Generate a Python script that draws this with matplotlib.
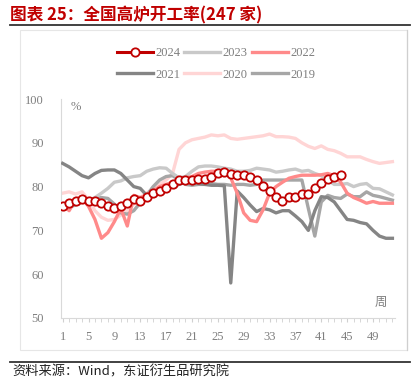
import matplotlib
matplotlib.use("Agg")
import matplotlib.pyplot as plt
from matplotlib.patches import Rectangle
from matplotlib.lines import Line2D
import numpy as np

plt.rcParams['font.family'] = ['Liberation Serif', 'Noto Sans CJK SC', 'DejaVu Sans']

weeks = list(range(1, 53))

y2024 = [75.6, 76.2, 76.6, 77.1, 76.7, 76.7, 76.2, 75.6, 75.2, 75.6, 76.2, 77.1, 76.6,
         77.7, 78.5, 79.0, 79.6, 80.6, 81.5, 81.5, 81.5, 81.7, 81.7, 82.1, 83.0, 83.4,
         82.9, 82.6, 82.6, 82.3, 81.4, 80.1, 79.1, 77.6, 76.6, 77.7, 77.7, 78.2, 78.2,
         79.6, 80.8, 81.7, 82.1, 82.6]

y2023 = [76.0, 76.0, 76.3, 76.5, 76.8, 77.5, 78.5, 79.6, 81.0, 81.3, 82.0, 82.3, 82.5,
         83.5, 84.0, 84.3, 84.2, 83.0, 82.0, 82.3, 83.5, 84.5, 84.7, 84.7, 84.5, 84.2,
         84.0, 83.5, 83.5, 83.7, 84.2, 84.0, 83.8, 83.3, 83.5, 83.8, 84.0, 83.5, 83.7,
         83.0, 82.5, 81.5, 80.5, 80.5, 80.7, 80.0, 80.5, 80.7, 79.6, 79.5, 78.8, 78.1]

y2022 = [76.0, 74.5, 77.0, 77.3, 75.5, 72.5, 68.2, 69.5, 72.0, 75.0, 71.0, 78.0, 77.5,
         78.0, 79.0, 80.0, 80.5, 81.0, 81.5, 82.0, 82.3, 83.0, 83.3, 83.5, 83.5, 83.3,
         82.0, 78.5, 74.0, 72.3, 72.0, 74.7, 78.5, 80.0, 81.0, 81.9, 82.3, 82.6, 82.6,
         82.6, 82.7, 83.0, 82.5, 81.0, 78.5, 77.5, 76.9, 76.2, 76.6, 76.2, 76.2, 76.2]

y2021 = [85.3, 84.5, 83.5, 82.5, 82.0, 83.0, 83.7, 83.8, 83.8, 83.0, 81.5, 80.0, 79.6,
         78.0, 78.0, 78.5, 79.5, 80.0, 80.5, 81.0, 81.0, 80.7, 80.5, 80.3, 80.3, 80.2,
         58.0, 79.0, 77.5, 75.8, 74.3, 75.0, 74.7, 74.0, 74.5, 74.5, 73.3, 72.0, 70.0,
         74.5, 77.7, 77.5, 76.5, 74.5, 72.5, 72.3, 71.8, 71.5, 70.0, 68.7, 68.2, 68.2]

y2020 = [78.5, 78.8, 78.3, 78.8, 77.0, 74.5, 73.0, 72.3, 72.5, 73.5, 74.5, 76.0, 77.5,
         78.5, 79.5, 80.5, 81.5, 83.0, 88.5, 90.0, 90.7, 91.0, 91.3, 91.8, 91.6, 91.8,
         91.0, 90.8, 91.0, 91.2, 91.4, 91.6, 92.0, 91.4, 91.4, 91.3, 91.0, 90.0, 89.2,
         88.7, 89.3, 88.5, 88.2, 87.6, 86.8, 86.8, 86.8, 86.2, 85.7, 85.3, 85.5, 85.7]

y2019 = [75.0, 75.3, 75.8, 76.5, 77.0, 77.3, 77.5, 77.3, 76.0, 74.0, 73.7, 74.5, 76.3,
         78.0, 80.0, 81.5, 82.3, 82.5, 81.5, 80.5, 80.3, 80.5, 80.5, 80.7, 80.5, 80.5,
         80.3, 80.5, 80.5, 80.3, 80.5, 81.5, 81.5, 81.5, 81.5, 81.5, 81.5, 81.5, 75.0,
         68.7, 76.5, 78.0, 77.5, 77.3, 78.3, 77.7, 77.7, 78.8, 78.0, 77.7, 77.3, 76.9]

xtick_labels = [1, 5, 9, 13, 17, 21, 25, 29, 33, 37, 41, 45, 49]
yticks = [50, 60, 70, 80, 90, 100]

W, H = 413, 385
fig = plt.figure(figsize=(W / 100, H / 100), dpi=100)

def fx(px):
    return px / W

def fy(py):
    return 1 - py / H

# Title
fig.text(fx(10), fy(15), "图表 25：全国高炉开工率(247 家)", color="#c00000",
         fontsize=12, fontweight="bold", va="center", ha="left",
         family=['Noto Sans CJK SC', 'DejaVu Sans'])
fig.add_artist(Line2D([fx(10), fx(410)], [fy(25), fy(25)], color="#333333", lw=1.3,
                      transform=fig.transFigure))
# Frame box
fig.add_artist(Rectangle((fx(20), fy(350)), fx(407) - fx(20), fy(30) - fy(350),
                         transform=fig.transFigure, fill=False, edgecolor="#e6e6e6", lw=0.8))
fig.add_artist(Line2D([fx(407), fx(407)], [fy(30), fy(350)], color="#cfcfcf", lw=0.9,
                      transform=fig.transFigure))
# Source
fig.add_artist(Line2D([fx(10), fx(410)], [fy(362), fy(362)], color="#333333", lw=1.3,
                      transform=fig.transFigure))
fig.text(fx(12), fy(372), "资料来源：Wind，东证衍生品研究院", color="#222222",
         fontsize=9.5, va="center", ha="left",
         family=['Noto Sans CJK SC', 'DejaVu Sans'])

ax = fig.add_axes([fx(60.7), fy(318), fx(395) - fx(60.7), fy(99) - fy(318)])

def w(n):
    return weeks[:n]

ax.plot(w(len(y2020)), y2020, color="#ffd5d5", lw=2.4, label="2020", zorder=2)
ax.plot(w(len(y2019)), y2019, color="#a6a6a6", lw=2.4, label="2019", zorder=3)
ax.plot(w(len(y2023)), y2023, color="#c9c9c9", lw=2.4, label="2023", zorder=3)
ax.plot(w(len(y2021)), y2021, color="#858585", lw=2.4, label="2021", zorder=4)
ax.plot(w(len(y2022)), y2022, color="#ff8a8a", lw=2.4, label="2022", zorder=5)
ax.plot(w(len(y2024)), y2024, color="#c00000", lw=2.2, marker="o", markersize=6,
        markerfacecolor="white", markeredgecolor="#c00000", markeredgewidth=1.3,
        label="2024", zorder=6)

ax.set_xlim(0.7, 52.4)
ax.set_ylim(50, 100)
ax.set_yticks(yticks)
ax.set_xticks(xtick_labels)
ax.set_xticks(weeks, minor=True)
ax.tick_params(axis="y", length=0, pad=12, labelsize=9, labelcolor="#7f7f7f")
ax.tick_params(axis="x", which="both", length=3, color="#d0d0d0", direction="out",
               pad=6, labelsize=9, labelcolor="#7f7f7f")
for s in ["top", "right"]:
    ax.spines[s].set_visible(False)
ax.spines["left"].set_color("#d9d9d9")
ax.spines["bottom"].set_color("#d9d9d9")
ax.patch.set_alpha(0)

ax.text(fx(76) , fy(107), "%", transform=fig.transFigure, color="#7f7f7f", fontsize=9,
        ha="center", va="center")
ax.text(fx(381), fy(302), "周", transform=fig.transFigure, color="#7f7f7f", fontsize=9,
        ha="center", va="center", family=['Noto Sans CJK SC', 'DejaVu Sans'])

handles, labels = ax.get_legend_handles_labels()
order = ["2024", "2021", "2023", "2020", "2022", "2019"]
hmap = dict(zip(labels, handles))
leg = fig.legend([hmap[k] for k in order], order, ncol=3, loc="center",
                 bbox_to_anchor=(fx(216), fy(64)), frameon=False, fontsize=9,
                 handlelength=2.9, handletextpad=0.2, columnspacing=0.3,
                 labelspacing=0.75, labelcolor="#7f7f7f")

fig.savefig("out.png", dpi=100)
